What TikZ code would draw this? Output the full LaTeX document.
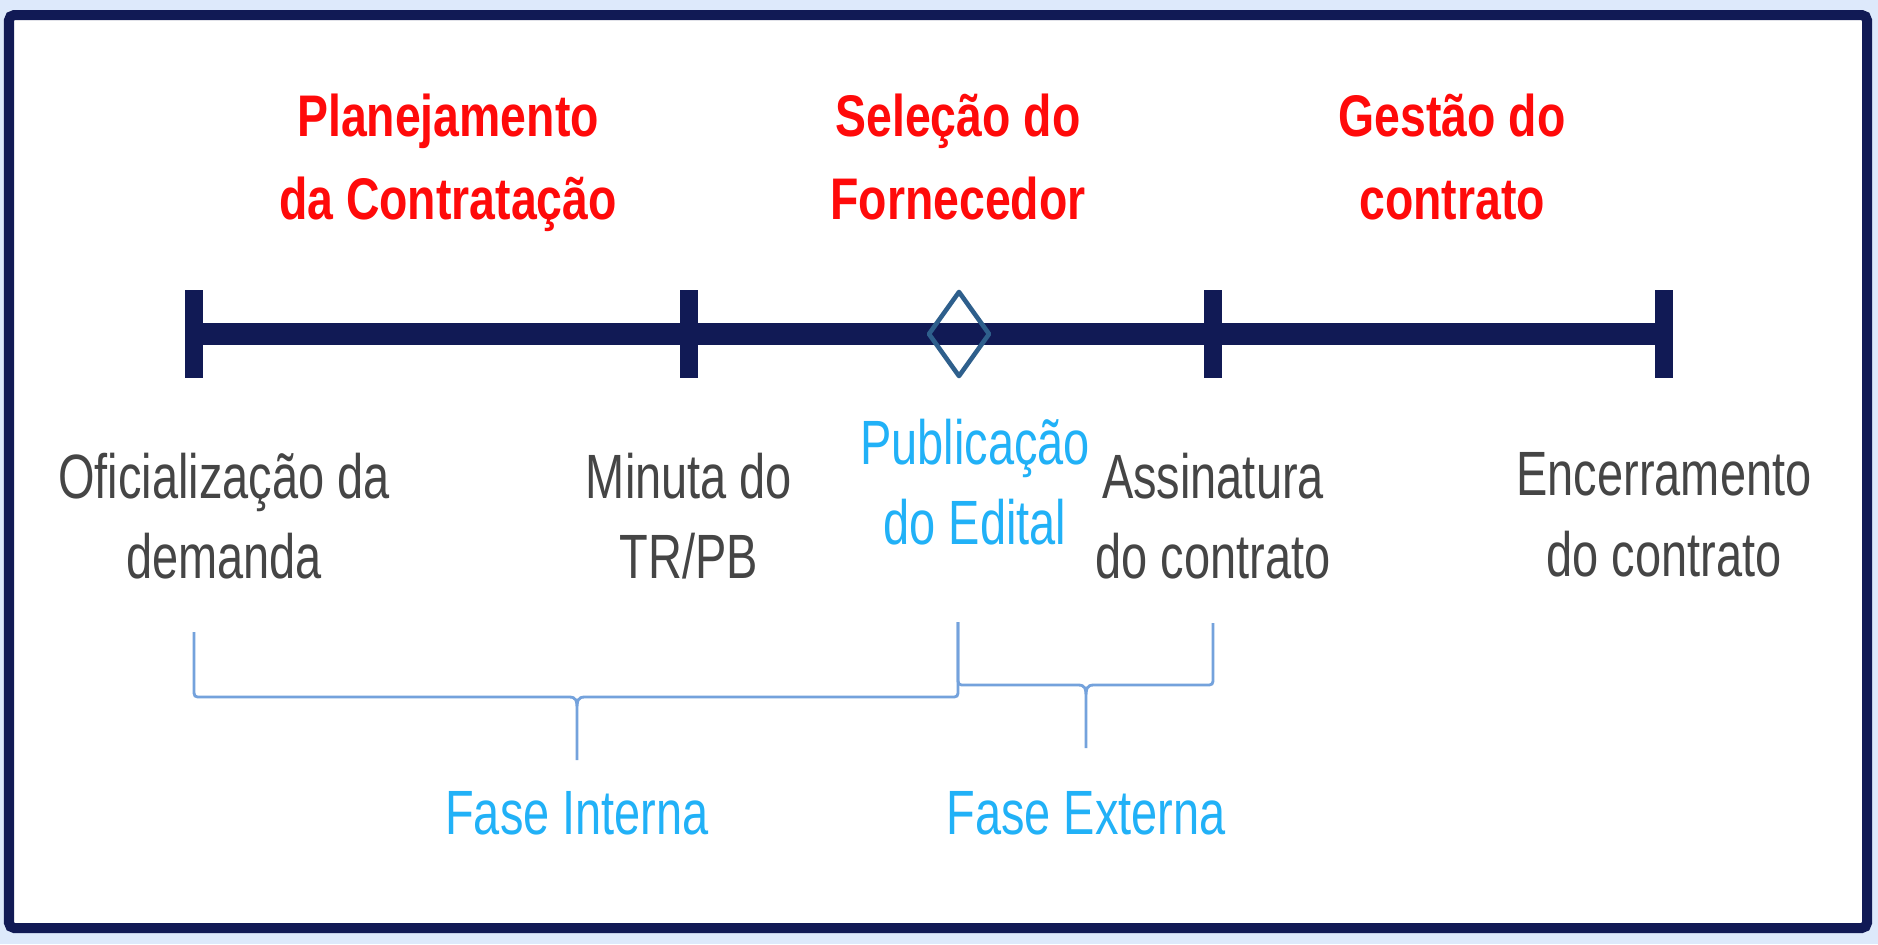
\documentclass[tikz,border=0pt]{standalone}
\usepackage{fontspec}
\setmainfont{Liberation Sans}
\newfontfamily\titlefont{Liberation Sans}[FakeStretch=0.79]
\newfontfamily\labelfont{Liberation Sans}[FakeStretch=0.75]
\usetikzlibrary{shapes.geometric, positioning}

\definecolor{navy}{HTML}{111A55}
\definecolor{pagebg}{HTML}{DDE9FB}
\definecolor{titlered}{HTML}{FF0A0A}
\definecolor{labelgray}{HTML}{454545}
\definecolor{fasecyan}{HTML}{21B1F7}
\definecolor{braceblue}{HTML}{74A2DC}
\definecolor{marker}{HTML}{2E5F8C}

\begin{document}
\begin{tikzpicture}[x=0.01cm, y=-0.01cm, node distance=1cm,
    titletext/.style={anchor=north, inner sep=0pt, align=center, text=titlered, font=\titlefont\bfseries\fontsize{16.7}{23.6}\selectfont},
    eventtext/.style={inner sep=0pt, align=center, text=labelgray, font=\labelfont\fontsize{17.8}{22.8}\selectfont},
    fasetext/.style={inner sep=0pt, align=center, text=fasecyan, font=\labelfont\fontsize{17.8}{22.8}\selectfont},
    tickmark/.style={rectangle, fill=navy, inner sep=0pt, outer sep=0pt, minimum width=0.18cm, minimum height=0.88cm},
    timeline/.style={draw=navy, line width=6.3pt},
    phasebrace/.style={draw=braceblue, line width=0.8pt},
    frame/.style={draw=navy, line width=2.85pt, fill=white, rounded corners=1.5pt}]

    % background and frame
    \fill[pagebg] (0,0) rectangle (1878,944);
    \useasboundingbox (0,0) rectangle (1878,944);
    \draw[frame] (9,15) rectangle (1867,928);

    % phase titles
    \node[titletext] (planejamento) at (448,93) {Planejamento\\da Contratação};
    \node[titletext] (selecao) at (958,93) {Seleção do\\Fornecedor};
    \node[titletext] (gestao) at (1452,93) {Gestão do\\contrato};

    % timeline
    \node[tickmark] (t1) at (194,334) {};
    \node[tickmark] (t2) at (689,334) {};
    \node[tickmark] (t4) at (1213,334) {};
    \node[tickmark] (t5) at (1664,334) {};
    \draw[timeline] (t1.center) -- (t5.center);
    \node[draw=marker, line width=1.3pt, line join=round, diamond, inner sep=0pt, outer sep=0pt, minimum width=0.6cm, minimum height=0.84cm] (edital) at (959,334) {};

    % milestones
    \node[eventtext, below=0.74cm of t1, xshift=0.3cm] (oficial) {Oficialização da\\demanda};
    \node[eventtext, below=0.74cm of t2] (minuta) {Minuta do\\TR/PB};
    \node[eventtext, below=0.42cm of edital, xshift=0.16cm, text=fasecyan] (publicacao) {Publicação\\do Edital};
    \node[eventtext, below=0.74cm of t4] (assinatura) {Assinatura\\do contrato};
    \node[eventtext, below=0.74cm of t5] (encerramento) {Encerramento\\do contrato};

    % braces
    \coordinate (intL) at (194,632);
    \coordinate (intR) at (958,622);
    \coordinate (intTip) at (577,760);
    \coordinate (extR) at (1213,623);
    \coordinate (extTip) at (1086,748);

    \draw[phasebrace] (intL) -- (194,689) .. controls (194,697) .. (202,697) -- (569,697)
        .. controls (576,697) and (577,700) .. (577,710) -- (intTip) -- (577,710)
        .. controls (577,700) and (578,697) .. (585,697) -- (950,697)
        .. controls (958,697) .. (958,689) -- (intR);
    \draw[phasebrace] (intR) -- (958,677) .. controls (958,685) .. (966,685) -- (1078,685)
        .. controls (1085,685) and (1086,688) .. (1086,698) -- (extTip) -- (1086,698)
        .. controls (1086,688) and (1087,685) .. (1094,685) -- (1205,685)
        .. controls (1213,685) .. (1213,677) -- (extR);

    \node[fasetext, below=0.31cm of intTip] (interna) {Fase Interna};
    \node[fasetext, below=0.43cm of extTip] (externa) {Fase Externa};
\end{tikzpicture}
\end{document}
